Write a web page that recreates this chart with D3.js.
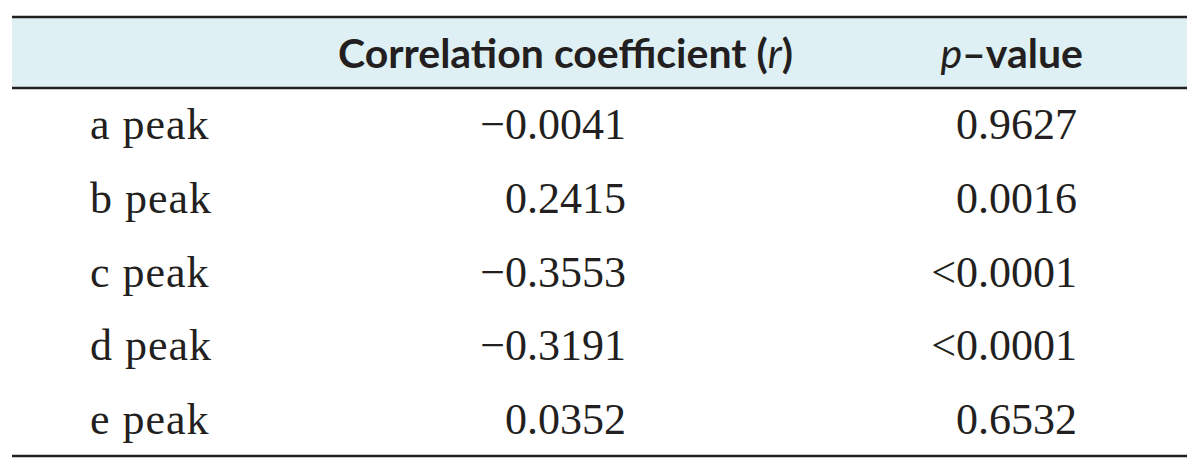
<!DOCTYPE html>
<html>
<head>
<meta charset="utf-8">
<script src="https://cdn.jsdelivr.net/npm/d3@7"></script>
<style>
  body { margin: 0; background: #fff; }
  .hdr { font-family: Lato, "Open Sans", sans-serif; font-weight: 700; fill: #231f20; }
  .cell { font-family: "Liberation Serif", "DejaVu Serif", serif; fill: #231f20; }
</style>
</head>
<body>
<div id="vis_container"></div>
<script>
// table values
var peaks = ["a peak", "b peak", "c peak", "d peak", "e peak"];
var rValues = [-0.0041, 0.2415, -0.3553, -0.3191, 0.0352];
var pLabels = ["0.9627", "0.0016", "<0.0001", "<0.0001", "0.6532"];

var width = 1200;
var height = 474;
var left = 12, right = 1187;
var top_line = 17, head_bottom = 88, bottom_line = 456;

var svg = d3.select("#vis_container")
    .append("svg")
    .attr("width", width)
    .attr("height", height);

// header background
svg.append("rect")
    .attr("x", left)
    .attr("y", top_line)
    .attr("width", right - left)
    .attr("height", head_bottom - top_line)
    .attr("fill", "#dff0f4");

// rows
var y = d3.scaleBand()
    .domain(peaks)
    .range([head_bottom, bottom_line]);

var fmt = d3.format(".4f");

var rows = svg.selectAll("g.row")
    .data(peaks)
    .enter().append("g")
    .attr("class", "row")
    .attr("transform", function (d) { return "translate(0," + (y(d) + y.bandwidth() / 2) + ")"; });

rows.append("text")
    .attr("class", "cell")
    .attr("x", 90)
    .attr("dy", "0.33em")
    .style("font-size", "44px")
    .style("letter-spacing", "1px")
    .text(function (d) { return d; });

rows.append("text")
    .attr("class", "cell")
    .attr("x", 626)
    .attr("dy", "0.33em")
    .style("font-size", "44px")
    .style("text-anchor", "end")
    .text(function (d, i) { return fmt(rValues[i]); });

rows.append("text")
    .attr("class", "cell")
    .attr("x", 1077)
    .attr("dy", "0.33em")
    .style("font-size", "44px")
    .style("text-anchor", "end")
    .text(function (d, i) { return pLabels[i]; });

// header labels
var h1 = svg.append("text")
    .attr("class", "hdr")
    .attr("x", 793)
    .attr("y", 68)
    .style("font-size", "41px")
    .style("text-anchor", "end");
h1.append("tspan").text("Correlation coefficient (");
h1.append("tspan").style("font-style", "italic").style("font-weight", "400").text("r");
h1.append("tspan").text(")");

var h2 = svg.append("text")
    .attr("class", "hdr")
    .attr("x", 1083)
    .attr("y", 68)
    .style("font-size", "41px")
    .style("text-anchor", "end");
h2.append("tspan").style("font-style", "italic").style("font-weight", "400").text("p");
h2.append("tspan").text("–value");

// rules
[top_line, head_bottom, bottom_line].forEach(function (v) {
  svg.append("line")
      .attr("x1", left).attr("x2", right)
      .attr("y1", v).attr("y2", v)
      .attr("stroke", "#231f20")
      .attr("stroke-width", 2.5);
});
</script>
</body>
</html>
